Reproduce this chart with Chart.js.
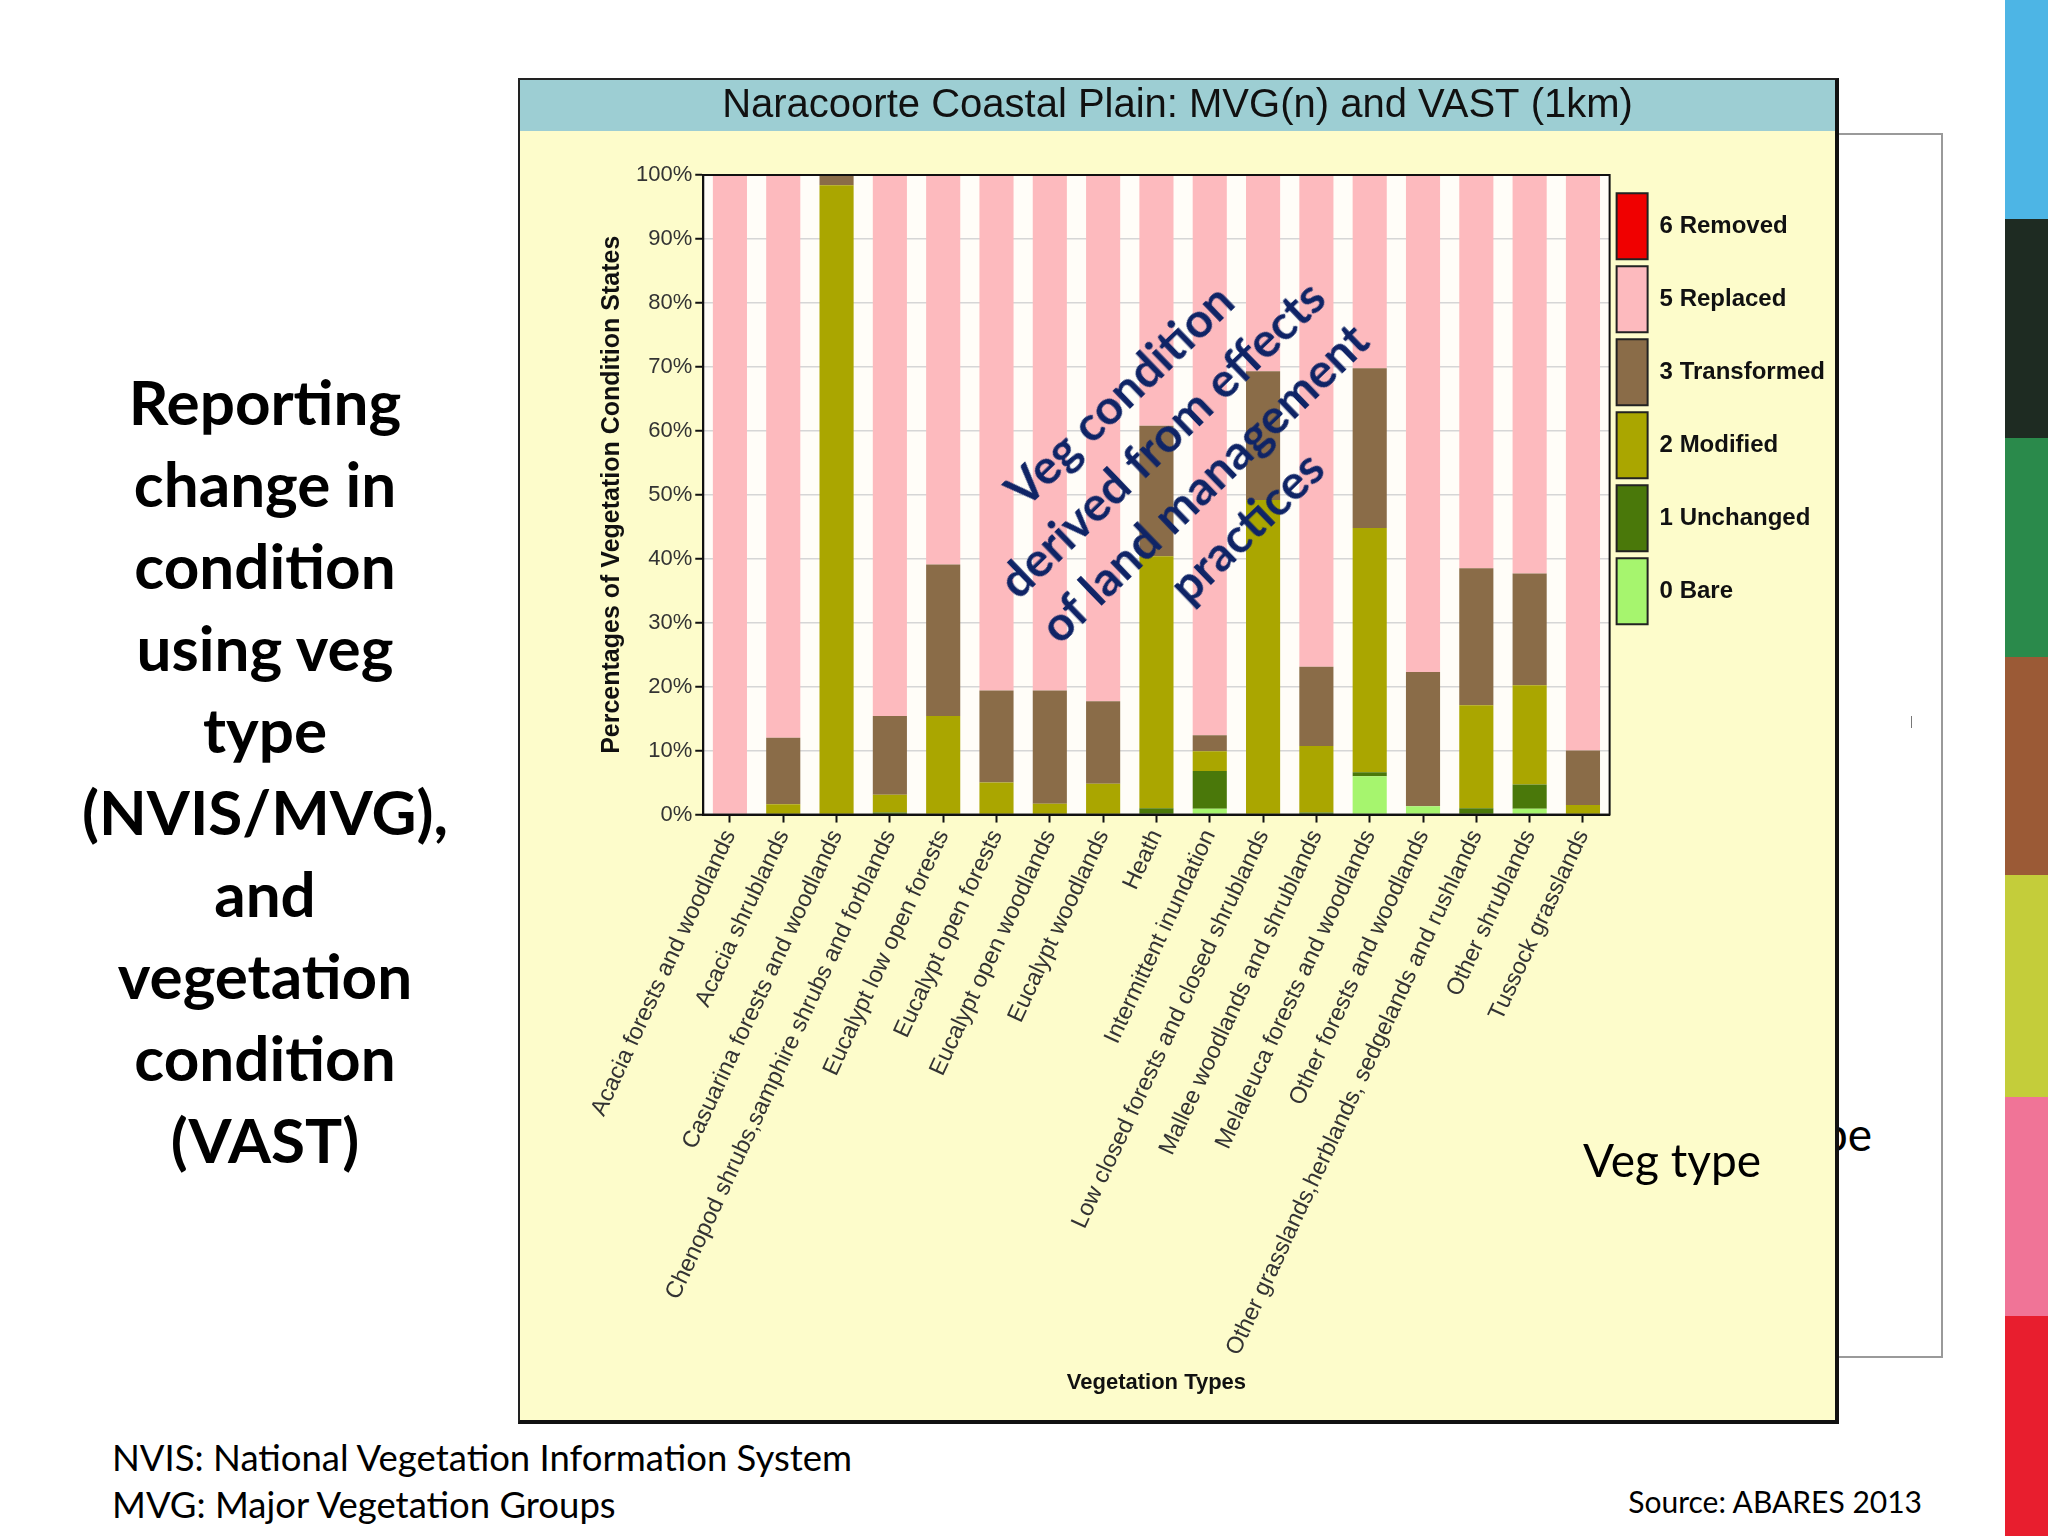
<!DOCTYPE html>
<html>
<head>
<meta charset="utf-8">
<script src="https://cdn.jsdelivr.net/npm/chart.js@4.4.1/dist/chart.umd.min.js"></script>
<style>
  html, body { margin: 0; padding: 0; }
  body { width: 2048px; height: 1536px; background: #fff; position: relative; overflow: hidden; font-family: Lato, 'Noto Sans', sans-serif; }
  .abs { position: absolute; }
  #stripe { left: 2005px; top: 0; width: 43px; height: 1536px; }
  #stripe div { width: 43px; }
  #backbox { left: 1500px; top: 133px; width: 441px; height: 1221px; border: 2px solid #9a9a9a; border-left: none; background: #fff; }
  #leftTitle { left: 45px; top: 360px; width: 440px; text-align: center; font-weight: 700; font-size: 62px; line-height: 82px; color: #000; }
  #frame { left: 518px; top: 78px; border-left: 2px solid #222; border-top: 2px solid #222; border-right: 4px solid #111; border-bottom: 4px solid #111; }
  #frame canvas { display: block; }
  #note { left: 1182px; top: 460px; transform: translate(-50%, -50%) rotate(-44deg); text-align: center; white-space: nowrap; font-weight: 700; font-size: 48px; line-height: 61px; color: #0f2466; }
  #vegType { left: 1583px; top: 1130px; font-size: 46px; line-height: 60px; color: #000; white-space: nowrap; }
  #vegTypeBack { left: 1694px; top: 1104px; font-size: 46px; line-height: 60px; color: #000; white-space: nowrap; }
  #foot { left: 112px; top: 1434px; font-size: 36.5px; line-height: 47px; color: #000; }
  #source { right: 126px; top: 1483px; font-size: 30px; line-height: 36px; color: #000; }
</style>
</head>
<body>

<div id="stripe" class="abs"></div>

<div id="backbox" class="abs"></div>
<div id="vegTypeBack" class="abs">Veg type</div>
<div class="abs" style="left:1911px; top:716px; width:1px; height:12px; background:#777;"></div>

<div id="leftTitle" class="abs">Reporting<br>change in<br>condition<br>using veg<br>type<br>(NVIS/MVG),<br>and<br>vegetation<br>condition<br>(VAST)</div>

<div id="frame" class="abs"><canvas id="chart" width="1315" height="1340"></canvas></div>

<div id="note" class="abs">Veg condition<br>derived from effects<br>of land management<br>practices</div>
<div id="vegType" class="abs">Veg type</div>

<div id="foot" class="abs">NVIS: National Vegetation Information System<br>MVG: Major Vegetation Groups</div>
<div id="source" class="abs">Source: ABARES 2013</div>

<script>
// Vegetation types (x axis categories)
const vegTypes = [
    'Acacia forests and woodlands',
    'Acacia shrublands',
    'Casuarina forests and woodlands',
    'Chenopod shrubs,samphire shrubs and forblands',
    'Eucalypt low open forests',
    'Eucalypt open forests',
    'Eucalypt open woodlands',
    'Eucalypt woodlands',
    'Heath',
    'Intermittent inundation',
    'Low closed forests and closed shrublands',
    'Mallee woodlands and shrublands',
    'Melaleuca forests and woodlands',
    'Other forests and woodlands',
    'Other grasslands,herblands, sedgelands and rushlands',
    'Other shrublands',
    'Tussock grasslands'
];

// Percent of each VAST condition state per vegetation type
const bare        = [0, 0, 0, 0, 0, 0, 0, 0, 0, 0.9, 0, 0, 6.0, 1.3, 0, 0.9, 0];
const unchanged   = [0, 0, 0, 0.3, 0, 0, 0, 0, 1.0, 5.9, 0, 0.3, 0.6, 0, 1.0, 3.8, 0];
const modified    = [0, 1.6, 98.4, 2.8, 15.4, 5.0, 1.7, 4.8, 39.4, 3.1, 49.2, 10.4, 38.2, 0, 16.1, 15.5, 1.5];
const transformed = [0, 10.4, 1.6, 12.3, 23.7, 14.4, 17.7, 12.9, 20.4, 2.5, 20.1, 12.4, 25.0, 21.0, 21.4, 17.5, 8.5];
const replaced    = [100, 88.0, 0, 84.6, 60.9, 80.6, 80.6, 82.3, 39.2, 87.6, 30.7, 76.9, 30.2, 77.7, 61.5, 62.3, 90.0];
const removed     = [0, 0, 0, 0, 0, 0, 0, 0, 0, 0, 0, 0, 0, 0, 0, 0, 0];

const yTicks = [0, 10, 20, 30, 40, 50, 60, 70, 80, 90, 100];

const colors = {
    bare: '#A6F56E',
    unchanged: '#4A780A',
    modified: '#AAA600',
    transformed: '#8A6C48',
    replaced: '#FDBABE',
    removed: '#F00000'
};

// slide colour stripe on the right edge
const stripeColors = ['#4DB5E5', '#1E2B22', '#2A8A4B', '#9B5A36', '#C4CD3A', '#F07497', '#E81E2E'];
const stripeHeights = [219, 219, 219, 218, 222, 219, 220];
const stripe = document.getElementById('stripe');
stripeColors.forEach((c, i) => {
    const d = document.createElement('div');
    d.style.background = c;
    d.style.height = stripeHeights[i] + 'px';
    stripe.appendChild(d);
});

// background, title band, white plot area and plot frame
const backdrop = {
    id: 'backdrop',
    beforeDraw(chart) {
        const { ctx, width, height, chartArea: a } = chart;
        ctx.save();
        ctx.fillStyle = '#FDFCCB';
        ctx.fillRect(0, 0, width, height);
        ctx.fillStyle = '#9DCED3';
        ctx.fillRect(0, 0, width, 51);
        ctx.fillStyle = '#FFFDF8';
        ctx.fillRect(a.left, a.top, a.right - a.left, a.bottom - a.top);
        ctx.restore();
    },
    afterDatasetsDraw(chart) {
        const { ctx, chartArea: a } = chart;
        ctx.save();
        ctx.strokeStyle = '#111';
        ctx.lineWidth = 2;
        ctx.strokeRect(a.left, a.top, a.right - a.left, a.bottom - a.top);
        ctx.restore();
    }
};

Chart.defaults.font.family = "'Liberation Sans', Arial, sans-serif";

function mkSet(label, data, color) {
    return { label: label, data: data, backgroundColor: color, borderWidth: 0, barPercentage: 0.64, categoryPercentage: 1.0 };
}

new Chart(document.getElementById('chart').getContext('2d'), {
    type: 'bar',
    data: {
        labels: vegTypes,
        datasets: [
            mkSet('0 Bare', bare, colors.bare),
            mkSet('1 Unchanged', unchanged, colors.unchanged),
            mkSet('2 Modified', modified, colors.modified),
            mkSet('3 Transformed', transformed, colors.transformed),
            mkSet('5 Replaced', replaced, colors.replaced),
            mkSet('6 Removed', removed, colors.removed)
        ]
    },
    options: {
        responsive: false,
        animation: false,
        layout: { padding: { left: 0, right: 0, top: 0, bottom: 24 } },
        plugins: {
            tooltip: { enabled: false },
            title: {
                display: true,
                text: 'Naracoorte Coastal Plain: MVG(n) and VAST (1km)',
                color: '#111',
                font: { size: 40, weight: 'normal' },
                padding: { top: 2, bottom: 45 }
            },
            legend: {
                position: 'right',
                align: 'start',
                fullSize: false,
                reverse: true,
                title: { display: true, text: ' ', font: { size: 1 }, padding: 5 },
                labels: {
                    boxWidth: 31,
                    boxHeight: 66,
                    padding: 7,
                    color: '#111',
                    font: { size: 24, weight: 'bold' },
                    generateLabels(chart) {
                        const items = Chart.defaults.plugins.legend.labels.generateLabels(chart);
                        items.forEach(it => { it.strokeStyle = '#222'; it.lineWidth = 2; });
                        return items;
                    }
                }
            }
        },
        scales: {
            x: {
                stacked: true,
                grid: { drawOnChartArea: false, offset: false, tickLength: 8, tickColor: '#111', tickWidth: 2 },
                border: { color: '#111', width: 2 },
                ticks: { autoSkip: false, minRotation: 65, maxRotation: 65, color: '#333', font: { size: 23.5 }, padding: 3 },
                title: { display: true, text: 'Vegetation Types', color: '#111', font: { size: 22, weight: 'bold' }, padding: { top: 7, bottom: 0 } }
            },
            y: {
                stacked: true,
                min: 0,
                max: 100,
                afterBuildTicks(axis) { axis.ticks = yTicks.map(v => ({ value: v })); },
                grid: { color: '#D6D6D6', lineWidth: 1.5, tickLength: 8, tickColor: '#111', tickWidth: 2 },
                border: { color: '#111', width: 2 },
                ticks: { color: '#333', font: { size: 22 }, padding: 3, callback: v => v + '%' },
                title: { display: true, text: 'Percentages of Vegetation Condition States', color: '#111', font: { size: 25, weight: 'bold' }, padding: { top: 77, bottom: 6 } }
            }
        }
    },
    plugins: [backdrop]
});
</script>
</body>
</html>
